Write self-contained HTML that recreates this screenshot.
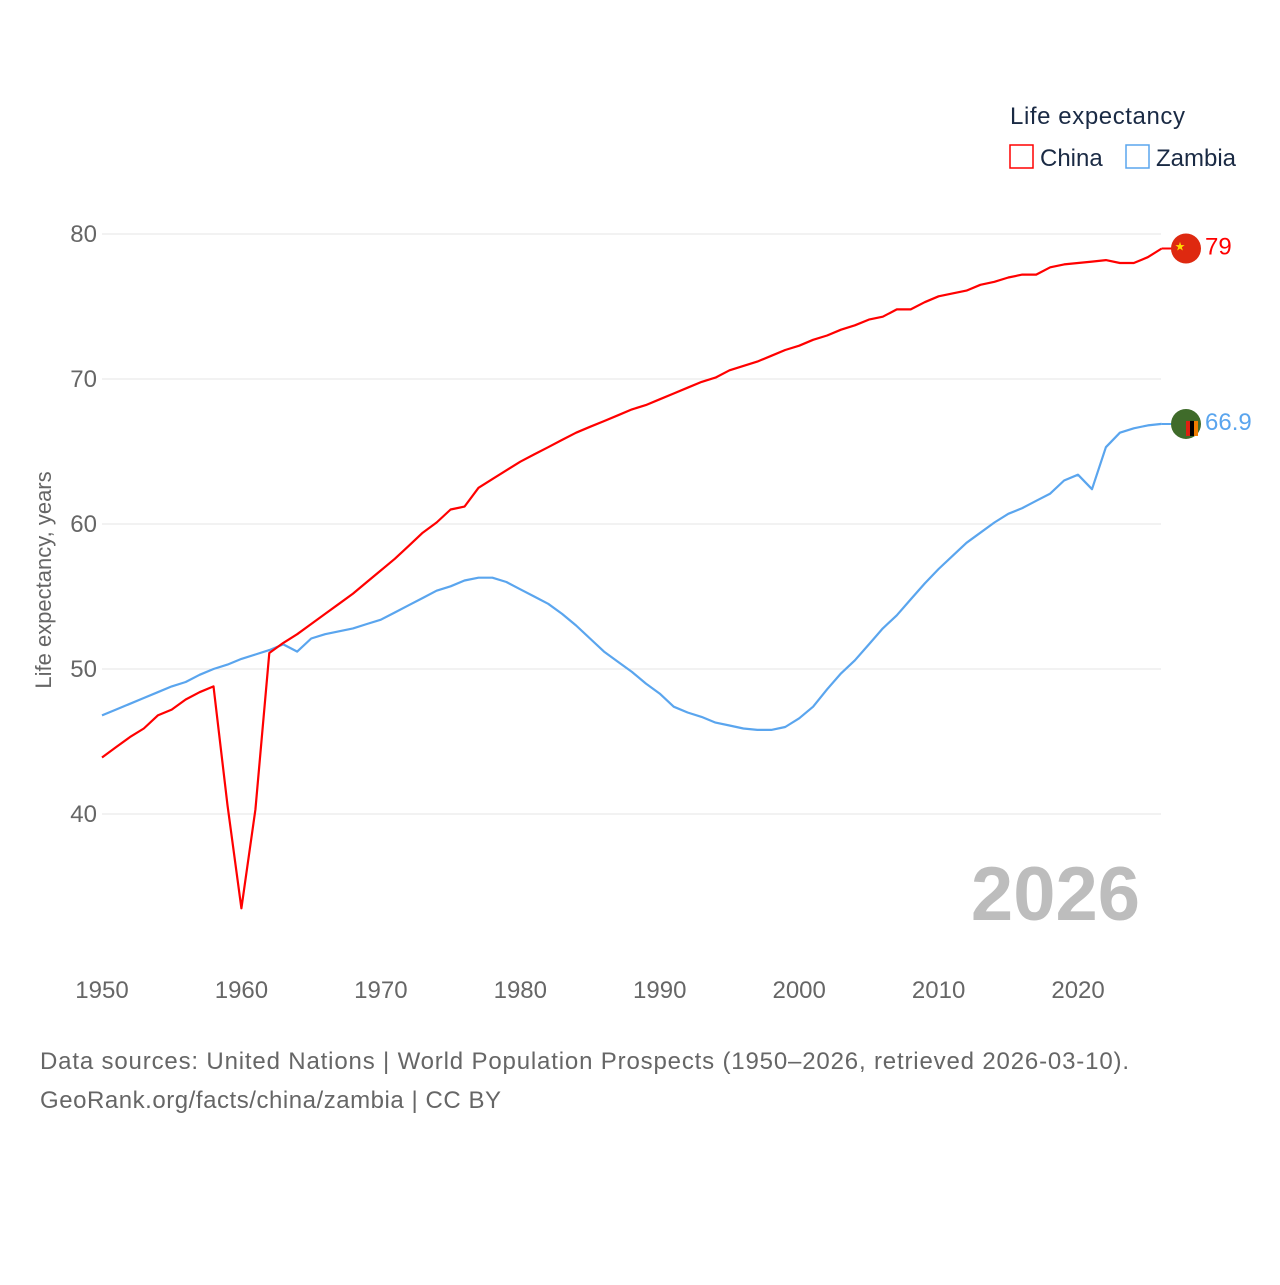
<!DOCTYPE html>
<html><head><meta charset="utf-8">
<style>
html,body{margin:0;padding:0;background:#fff;}
body{width:1280px;height:1280px;overflow:hidden;font-family:"Liberation Sans",sans-serif;}
svg text{font-family:"Liberation Sans",sans-serif;}
</style></head>
<body>
<svg id="chart" width="1280" height="1280" viewBox="0 0 1280 1280" xmlns="http://www.w3.org/2000/svg">
  <g id="grid"></g>
  <g id="yticks"></g>
  <g id="xticks"></g>
  <text transform="translate(51,580) rotate(-90)" text-anchor="middle" font-size="22" fill="#666">Life expectancy, years</text>
  <text x="1140" y="920" text-anchor="end" font-size="76" font-weight="bold" fill="#bdbdbd">2026</text>
  <g id="series"></g>
  <g>
    <text x="1010" y="124" font-size="24" fill="#1a2a44" textLength="175">Life expectancy</text>
    <g>
      <rect x="1010" y="145" width="23" height="23" fill="none" stroke="#ff0000" stroke-width="1.5"/>
      <text x="1040" y="166" font-size="24" fill="#1a2a44">China</text>
    </g>
    <g>
      <rect x="1126" y="145" width="23" height="23" fill="none" stroke="#5aa5ee" stroke-width="1.5"/>
      <text x="1156" y="166" font-size="24" fill="#1a2a44">Zambia</text>
    </g>
  </g>
  <text x="40" y="1069" font-size="24" fill="#666" textLength="1089">Data sources: United Nations | World Population Prospects (1950–2026, retrieved 2026-03-10).</text>
  <text x="40" y="1108" font-size="24" fill="#666" textLength="461">GeoRank.org/facts/china/zambia | CC BY</text>
</svg>
<script>
const years = [];
for (let y = 1950; y <= 2026; y++) years.push(y);
const chinaValues = [43.9,44.6,45.3,45.9,46.8,47.2,47.9,48.4,48.8,40.6,33.5,40.3,51.1,51.8,52.4,53.1,53.8,54.5,55.2,56.0,56.8,57.6,58.5,59.4,60.1,61.0,61.2,62.5,63.1,63.7,64.3,64.8,65.3,65.8,66.3,66.7,67.1,67.5,67.9,68.2,68.6,69.0,69.4,69.8,70.1,70.6,70.9,71.2,71.6,72.0,72.3,72.7,73.0,73.4,73.7,74.1,74.3,74.8,74.8,75.3,75.7,75.9,76.1,76.5,76.7,77.0,77.2,77.2,77.7,77.9,78.0,78.1,78.2,78.0,78.0,78.4,79.0];
const zambiaValues = [46.8,47.2,47.6,48.0,48.4,48.8,49.1,49.6,50.0,50.3,50.7,51.0,51.3,51.7,51.2,52.1,52.4,52.6,52.8,53.1,53.4,53.9,54.4,54.9,55.4,55.7,56.1,56.3,56.3,56.0,55.5,55.0,54.5,53.8,53.0,52.1,51.2,50.5,49.8,49.0,48.3,47.4,47.0,46.7,46.3,46.1,45.9,45.8,45.8,46.0,46.6,47.4,48.6,49.7,50.6,51.7,52.8,53.7,54.8,55.9,56.9,57.8,58.7,59.4,60.1,60.7,61.1,61.6,62.1,63.0,63.4,62.4,65.3,66.3,66.6,66.8,66.9];
const yTicks = [40,50,60,70,80];
const xTicks = [1950,1960,1970,1980,1990,2000,2010,2020];
const chinaLabel = "79";
const zambiaLabel = "66.9";

const NS = "http://www.w3.org/2000/svg";
const X0 = 102, X1 = 1161.7, Y80 = 234, Y40 = 814;
const xScale = y => X0 + (y - 1950) * (X1 - X0) / 76;
const yScale = v => Y80 + (80 - v) * (Y40 - Y80) / 40;
function mk(tag, attrs, parent) {
  const e = document.createElementNS(NS, tag);
  for (const k in attrs) e.setAttribute(k, attrs[k]);
  parent.appendChild(e);
  return e;
}
const grid = document.getElementById('grid'), yt = document.getElementById('yticks'), xt = document.getElementById('xticks'), ser = document.getElementById('series');
yTicks.forEach(v => {
  const l = mk('line', {x1: X0, x2: 1161, y1: yScale(v), y2: yScale(v), stroke: '#e6e6e6', 'stroke-width': 1}, grid);
  
  
  const t = mk('text', {x: 97, y: yScale(v) + 8, 'text-anchor': 'end', 'font-size': 24, fill: '#666'}, yt);
  t.textContent = v;
  
  
});
xTicks.forEach(v => {
  const t = mk('text', {x: xScale(v), y: 998, 'text-anchor': 'middle', 'font-size': 24, fill: '#666'}, xt);
  t.textContent = v;
  
  
});
function drawSeries(vals, color, name, label) {
  const d = vals.map((v, i) => (i ? 'L' : 'M') + xScale(years[i]).toFixed(1) + ',' + yScale(v).toFixed(1)).join(' ');
  const p = mk('path', {d: d, fill: 'none', stroke: color, 'stroke-width': 2.2, 'stroke-linejoin': 'round'}, ser);
  
  
  const last = vals[vals.length - 1];
  const yy = yScale(last);
  mk('line', {x1: xScale(2026), x2: 1186, y1: yy, y2: yy, stroke: color, 'stroke-width': 2}, ser);
  const c = mk('circle', {cx: 1186, cy: yy, r: 15, fill: name === 'china' ? '#de2910' : '#3f6b2a'}, ser);
  
  
  if (name === 'china') {
    mk('text', {x: 1180, y: yy + 2, 'font-size': 12, fill: '#ffde00', 'text-anchor': 'middle'}, ser).textContent = '★';
  } else {
    mk('rect', {x: 1186, y: yy - 3, width: 4, height: 15, fill: '#de2010'}, ser);
    mk('rect', {x: 1190, y: yy - 3, width: 4, height: 15, fill: '#000'}, ser);
    mk('rect', {x: 1194, y: yy - 3, width: 4, height: 15, fill: '#ef7d00'}, ser);
  }
  const t = mk('text', {x: 1205, y: yy + 6, 'font-size': 24, fill: color}, ser);
  t.textContent = label;
  
  
}
drawSeries(zambiaValues, '#5aa5ee', 'zambia', zambiaLabel);
drawSeries(chinaValues, '#ff0000', 'china', chinaLabel);
</script>
</body></html>
